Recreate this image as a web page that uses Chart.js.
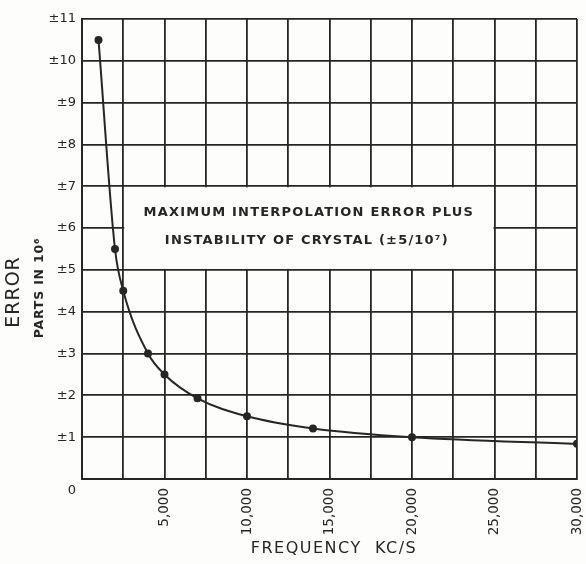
<!DOCTYPE html>
<html>
<head>
<meta charset="utf-8">
<script src="https://cdn.jsdelivr.net/npm/chart.js@4.4.1/dist/chart.umd.min.js"></script>
<style>
  html, body { margin: 0; padding: 0; background: #fdfdfb; }
  #wrap { width: 586px; height: 564px; }
</style>
</head>
<body>
<div id="wrap"><canvas id="errChart"></canvas></div>
<script>
// frequency in kc/s and error in parts per 10^6
const freqs = [1000, 2000, 2500, 4000, 5000, 7000, 10000, 14000, 20000, 30000];
const errors = [10.5, 5.5, 4.5, 3.0, 2.5, 1.93, 1.5, 1.21, 1.0, 0.84];
const xLabelTicks = [5000, 10000, 15000, 20000, 25000, 30000];
const boxLines = ["MAXIMUM INTERPOLATION ERROR PLUS", "INSTABILITY OF CRYSTAL (\u00b15/10\u2077)"];

const ink = "#262626";

// blank the grid behind the note, then write the note and axis titles
const notePlugin = {
    id: "notePlugin",
    beforeDatasetsDraw(chart) {
        const { ctx, scales } = chart;
        const x1 = scales.x.getPixelForValue(2500), x2 = scales.x.getPixelForValue(25000);
        const y1 = scales.y.getPixelForValue(7), y2 = scales.y.getPixelForValue(5);
        ctx.save();
        ctx.fillStyle = "#fdfdfb";
        ctx.fillRect(x1 + 1, y1 + 1, x2 - x1 - 2, y2 - y1 - 2);
        ctx.restore();
    },
    afterDraw(chart) {
        const { ctx, scales } = chart;
        const cx = (scales.x.getPixelForValue(2500) + scales.x.getPixelForValue(25000)) / 2;
        ctx.save();
        ctx.fillStyle = ink;
        ctx.textAlign = "center";
        ctx.textBaseline = "middle";
        ctx.font = "bold 13px 'DejaVu Sans'";
        ctx.letterSpacing = "1.2px";
        ctx.fillText(boxLines[0], cx, 213);
        ctx.fillText(boxLines[1], cx - 2, 241);

        // origin label
        ctx.font = "13px 'DejaVu Sans'";
        ctx.letterSpacing = "0px";
        ctx.fillText("0", 72, 491);

        // x title
        ctx.font = "16px 'DejaVu Sans'";
        ctx.letterSpacing = "1.5px";
        ctx.fillText("FREQUENCY  KC/S", 334, 549);

        // y titles, rotated
        ctx.translate(14, 292);
        ctx.rotate(-Math.PI / 2);
        ctx.font = "19px 'DejaVu Sans'";
        ctx.letterSpacing = "1px";
        ctx.fillText("ERROR", 0, 0);
        ctx.rotate(Math.PI / 2);
        ctx.translate(26, -4);
        ctx.rotate(-Math.PI / 2);
        ctx.font = "bold 12.5px 'DejaVu Sans'";
        ctx.letterSpacing = "0.8px";
        ctx.fillText("PARTS IN 10\u2076", 0, 0);
        ctx.restore();
    }
};

new Chart(document.getElementById("errChart"), {
    type: "line",
    data: {
        datasets: [
            {
                data: freqs.map((f, i) => ({ x: f, y: errors[i] })),
                borderColor: ink,
                backgroundColor: ink,
                borderWidth: 2,
                pointRadius: 3,
                pointHoverRadius: 3,
                cubicInterpolationMode: "monotone",
                fill: false,
            },
        ],
    },
    options: {
        responsive: true,
        maintainAspectRatio: false,
        animation: false,
        layout: { padding: { top: 19, right: 9, left: 0, bottom: 0 } },
        plugins: {
            legend: { display: false },
            tooltip: { enabled: false },
        },
        scales: {
            x: {
                type: "linear",
                min: 0,
                max: 30000,
                afterFit: (s) => {
                    s.height = 85;
                    s.paddingLeft = 0;
                    s.paddingRight = 0;
                },
                afterBuildTicks: (s) => {
                    s.ticks = [];
                    for (let v = 0; v <= 30000; v += 2500) s.ticks.push({ value: v });
                },
                grid: { color: ink, lineWidth: 1.8, drawTicks: false },
                border: { color: ink, width: 2 },
                ticks: {
                    autoSkip: false,
                    minRotation: 90,
                    maxRotation: 90,
                    padding: 9,
                    color: ink,
                    font: { family: "DejaVu Sans", size: 13.5 },
                    callback: (v) => (xLabelTicks.includes(v) ? v.toLocaleString("en-US") : ""),
                },
            },
            y: {
                min: 0,
                max: 11,
                afterFit: (s) => {
                    s.width = 82;
                    s.paddingTop = 0;
                    s.paddingBottom = 0;
                },
                grid: { color: ink, lineWidth: 1.8, drawTicks: false },
                border: { color: ink, width: 2 },
                ticks: {
                    stepSize: 1,
                    padding: 6,
                    color: ink,
                    font: { family: "DejaVu Sans", size: 13 },
                    callback: (v) => (v > 0 ? "\u00b1" + v : ""),
                },
            },
        },
    },
    plugins: [notePlugin],
});
</script>
</body>
</html>
